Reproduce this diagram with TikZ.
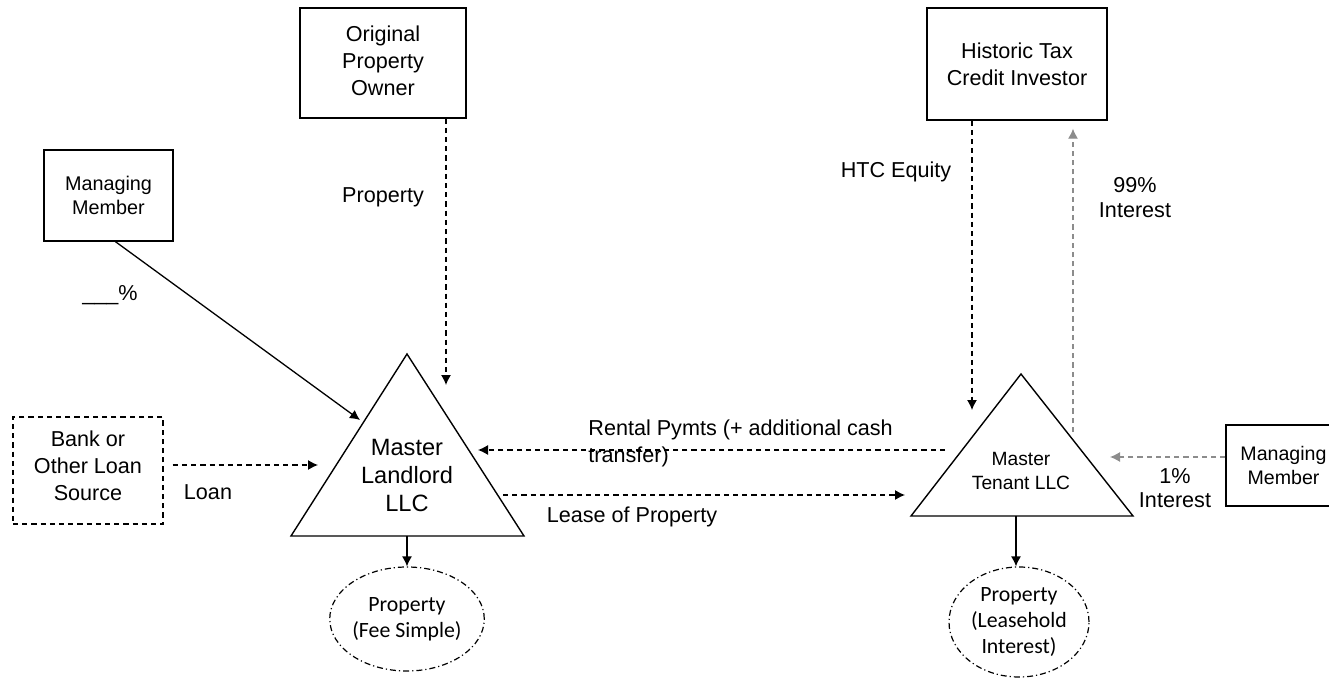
\documentclass[tikz,border=0pt]{standalone}
\usepackage{fontspec}
\setmainfont{Liberation Sans}
\newfontfamily\propfont{Carlito}
\usetikzlibrary{arrows.meta,shapes.geometric}

\tikzset{
  box/.style={draw,line width=0.7pt,align=center,inner sep=0pt},
  dbox/.style={box,dash pattern=on 2.6pt off 2pt},
  lbl/.style={align=center,inner sep=0pt},
  dline/.style={-{Latex[length=5pt,width=5pt]},line width=0.6pt,dash pattern=on 2.6pt off 2pt},
  gline/.style={dline,gray!90},
  sline/.style={-{Latex[length=5pt,width=5pt]},line width=0.65pt},
  tri/.style={line width=0.7pt},
  propnode/.style={draw,ellipse,line width=0.6pt,dash pattern=on 3pt off 1.5pt on 0.6pt off 1.5pt,
    align=center,inner sep=0pt,font=\propfont\fontsize{10.9}{12.8}\selectfont}
}

\begin{document}
\begin{tikzpicture}[x=0.5pt,y=-0.5pt,font=\fontsize{10.8}{13.5}\selectfont]
\useasboundingbox (0,0) rectangle (1329,690);

% Boxes
\node[box,minimum width=83pt,minimum height=55pt,text depth=2.5pt] (owner) at (383,63) {Original\\Property\\Owner};
\node[box,minimum width=90pt,minimum height=56pt] (htc) at (1017,64) {Historic Tax\\Credit Investor};
\node[box,minimum width=64.5pt,minimum height=45.5pt,font=\fontsize{9.9}{12}\selectfont] (mm1) at (108.5,195.5) {Managing\\Member};
\node[box,minimum width=57.5pt,minimum height=40.5pt,font=\fontsize{9.8}{12}\selectfont] (mm2) at (1283.5,465.5) {Managing\\Member};
\node[dbox,minimum width=75pt,minimum height=53.5pt,text depth=5pt] (bank) at (88,470.5) {Bank or\\Other Loan\\Source};

% Master Landlord
\draw[tri] (407,354) -- (524,536) -- (291,536) -- cycle;
\node[lbl,font=\fontsize{11.8}{14}\selectfont] (ml) at (407,475) {Master\\Landlord\\LLC};
\coordinate (ml-base) at (407,536);

% Master Tenant
\draw[tri] (1021,374) -- (1133,516) -- (911,516) -- cycle;
\node[lbl,font=\fontsize{9.6}{12}\selectfont] (mt) at (1021,471) {Master\\Tenant LLC};
\coordinate (mt-base) at (1016,516);

% Property
\node[propnode,minimum width=73pt,minimum height=52pt] (fee) at (407,619) {Property\\(Fee Simple)};
\node[propnode,minimum width=70pt,minimum height=55pt] (lease) at (1019,622) {Property\\(Leasehold\\Interest)};

% Ends of connectors
\coordinate (ml-in0) at (360,420);
\coordinate (ml-in1) at (446,385);
\coordinate (ml-in2) at (318,465);
\coordinate (ml-in3) at (478,450);
\coordinate (ml-out) at (503,495);
\coordinate (mt-in1) at (905,495);
\coordinate (mt-in2) at (972,410);
\coordinate (mt-in3) at (1110,457);
\coordinate (mt-out1) at (945,450);
\coordinate (mt-out2) at (1073,432);

% Connectors
\draw[sline] ([xshift=3.5pt]mm1.south) -- (ml-in0);
\draw[dline] (owner.south -| ml-in1) -- (ml-in1);
\draw[dline] ([xshift=4.5pt]bank.east |- ml-in2) -- (ml-in2);
\draw[dline] (mt-out1) -- (ml-in3);
\draw[dline] (ml-out) -- (mt-in1);
\draw[dline] (htc.south -| mt-in2) -- (mt-in2);
\draw[gline] (mt-out2) -- ([yshift=-4pt]htc.south -| mt-out2);
\draw[gline] (mm2.west |- mt-in3) -- (mt-in3);
\draw[sline] (ml-base) -- (fee.north);
\draw[sline] (mt-base) -- (lease.north -| mt-base);

% Labels
\node[lbl] (l-prop) at (383,197) {Property};
\node[lbl] (l-pct) at (110,295) {\_\_\_\%};
\node[lbl] (l-loan) at (208,492) {Loan};
\node[lbl,anchor=west,align=left] (l-rent) at (588,443) {Rental Pymts (+ additional cash\\transfer)};
\node[lbl] (l-lease) at (632,517) {Lease of Property};
\node[lbl] (l-htc) at (896,172) {HTC Equity};
\node[lbl,font=\fontsize{10.8}{12.5}\selectfont] (l-99) at (1135,198) {99\%\\Interest};
\node[lbl,font=\fontsize{10.8}{12}\selectfont] (l-1) at (1175,488) {1\%\\Interest};

\end{tikzpicture}
\end{document}
